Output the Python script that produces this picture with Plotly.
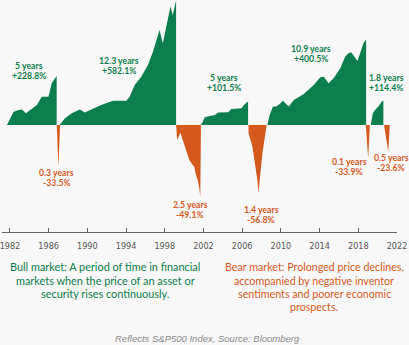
import plotly.graph_objects as go

# ---------------- data ----------------
bull1_years = [1981.69, 1982.38, 1982.90, 1983.24, 1983.65, 1984.09, 1984.78, 1985.29, 1985.98, 1986.32, 1986.60, 1986.83]
bull1_vals = [0, 62, 70, 73, 55, 70, 94, 132, 132, 195, 211, 228.8]

bear1_years = [1986.84, 1987.01, 1987.18]
bear1_vals = [0, -33.4, 0]

bull2_years = [1987.14, 1987.69, 1988.38, 1989.23, 1989.74, 1990.61, 1991.43, 1992.66, 1994.03, 1994.37, 1994.89,
               1995.57, 1996.26, 1996.78, 1997.29, 1997.46, 1997.80, 1998.14, 1998.42, 1998.59, 1998.83, 1999.17]
bull2_vals = [0, 31, 55, 73, 59, 78, 94, 114, 114, 132, 187, 226, 281, 343, 413, 445, 382, 460, 523, 554, 515, 582.1]

bear2_years = [1999.17, 1999.28, 1999.62, 1999.86, 2000.20, 2000.54, 2000.89, 2001.05, 2001.23, 2001.40, 2001.57, 2001.67, 2001.74]
bear2_vals = [0, -12, -6.2, -12, -21.4, -28, -32, -33.4, -40, -44, -50.6, -57.4, 0]

bull3_years = [2001.74, 2002.15, 2002.66, 2003.18, 2003.52, 2004.04, 2004.55, 2004.90, 2005.41, 2005.93, 2006.27, 2006.61]
bull3_vals = [0, 36, 42, 47, 58, 58, 60, 75, 75, 78, 98, 110]

bear3_years = [2006.65, 2006.66, 2007.06, 2007.33, 2007.57, 2007.68, 2007.81, 2008.09, 2008.43, 2008.53]
bear3_vals = [0, -6.6, -17.4, -30.6, -44, -54.2, -44, -22.6, -5.4, 0]

bull4_years = [2008.60, 2008.84, 2009.18, 2009.53, 2009.87, 2010.20, 2010.55, 2010.82, 2011.34, 2012.36, 2013.39, 2014.08,
               2014.42, 2014.93, 2015.45, 2016.14, 2016.65, 2016.99, 2017.27, 2017.58, 2017.92, 2018.19, 2018.53, 2018.81]
bull4_vals = [0, 47, 86, 86, 98, 114, 98, 86, 117, 145, 187, 223, 226, 195, 219, 265, 320, 336, 340, 320, 300, 336, 382, 400.5]

bear4_years = [2018.78, 2019.02, 2019.19]
bear4_vals = [0, -26.6, 0]

bull5_years = [2019.29, 2019.50, 2019.73, 2020.07, 2020.42, 2020.59]
bull5_vals = [0, 55, 70, 86, 109, 114.4]

bear5_years = [2020.66, 2021.10, 2021.25]
bear5_vals = [0, -21.3, 0]

bull_durations = ["5 years", "12.3 years", "5 years", "10.9 years", "1.8 years"]
bull_returns = ["+228.8%", "+582.1%", "+101.5%", "+400.5%", "+114.4%"]
bear_durations = ["0.3 years", "2.5 years", "1.4 years", "0.1 years", "0.5 years"]
bear_returns = ["-33.5%", "-49.1%", "-56.8%", "-33.9%", "-23.6%"]

tick_years = [1982, 1986, 1990, 1994, 1998, 2002, 2006, 2010, 2014, 2018, 2022]

bull_note = ["Bull market: A period of time in financial",
             "markets when the price of an asset or",
             "security rises continuously."]
bear_note = ["Bear market: Prolonged price declines,",
             "accompanied by negative inventor",
             "sentiments and poorer economic",
             "prospects."]
source_note = "Reflects S&P500 Index, Source: Bloomberg"

# ---------------- styling ----------------
GREEN = "#0c7d4c"
ORANGE = "#d5581c"
BG = "#f8f8f8"
LABEL_FONT = "Lato, Open Sans, sans-serif"
NOTE_FONT = "Lato, Open Sans, sans-serif"
TICK_FONT = "DejaVu Sans Condensed, Lato, sans-serif"

W, H = 409, 345
ML, MR, MT, MB = 0, 12, 0, 113
PW, PH = W - ML - MR, H - MT - MB

fig = go.Figure()

bulls = [(bull1_years, bull1_vals), (bull2_years, bull2_vals), (bull3_years, bull3_vals),
         (bull4_years, bull4_vals), (bull5_years, bull5_vals)]
bears = [(bear1_years, bear1_vals), (bear2_years, bear2_vals), (bear3_years, bear3_vals),
         (bear4_years, bear4_vals), (bear5_years, bear5_vals)]

for xs, ys in bulls:
    fig.add_trace(go.Scatter(x=xs, y=ys, mode="lines", line=dict(width=0, color=GREEN),
                             fill="tozeroy", fillcolor=GREEN, yaxis="y", hoverinfo="skip",
                             showlegend=False))
for xs, ys in bears:
    fig.add_trace(go.Scatter(x=xs, y=ys, mode="lines", line=dict(width=0, color=ORANGE),
                             fill="tozeroy", fillcolor=ORANGE, yaxis="y2", hoverinfo="skip",
                             showlegend=False))


def px_to_paper(px, py):
    return (px - ML) / PW, (H - MB - py) / PH


annotations = []


def add_text(px, py, text, color, size, family, bold=False, italic=False):
    x, y = px_to_paper(px, py)
    t = text
    if bold:
        t = "<b>" + t + "</b>"
    if italic:
        t = "<i>" + t + "</i>"
    annotations.append(dict(x=x, y=y, xref="paper", yref="paper", text=t, showarrow=False,
                            xanchor="center", yanchor="middle",
                            font=dict(family=family, size=size, color=color)))


LINE_GAP = 9.8
bull_label_pos = [(26.7, 65.5), (118, 60.8), (223, 77.8), (310.7, 48.8), (386, 77.8)]
for (px, y1), d, r in zip(bull_label_pos, bull_durations, bull_returns):
    add_text(px, y1, d, GREEN, 8.7, LABEL_FONT, bold=True)
    add_text(px, y1 + LINE_GAP, r, GREEN, 8.7, LABEL_FONT, bold=True)

bear_label_pos = [(55, 172.8), (189, 204.8), (260.7, 209.8), (349, 161.5), (391, 157.8)]
for (px, y1), d, r in zip(bear_label_pos, bear_durations, bear_returns):
    add_text(px, y1, d, ORANGE, 8.7, LABEL_FONT, bold=True)
    add_text(px, y1 + LINE_GAP, r, ORANGE, 8.7, LABEL_FONT, bold=True)

for i, line in enumerate(bull_note):
    add_text(104, 266.7 + i * 13.3, line, GREEN, 10.9, NOTE_FONT)
for i, line in enumerate(bear_note):
    add_text(314, 266.7 + i * 13.3, line, ORANGE, 10.7, NOTE_FONT)

add_text(206.7, 338.3, source_note, "#8a8a8a", 9.5, "Liberation Sans, Arial, sans-serif", italic=True)

fig.update_layout(
    width=W, height=H,
    margin=dict(l=ML, r=MR, t=MT, b=MB),
    paper_bgcolor=BG, plot_bgcolor=BG,
    showlegend=False,
    xaxis=dict(range=[1981.18, 2022.0], tickmode="array", tickvals=tick_years,
               ticktext=[str(v) for v in tick_years], ticks="inside", ticklen=4,
               tickcolor="#666666", showline=True, linecolor="#666666", linewidth=1,
               showgrid=False, zeroline=False, ticklabelstandoff=5, ticklabeloverflow="allow",
               tickfont=dict(family=TICK_FONT, size=9, color="#555555")),
    yaxis=dict(range=[-500.8, 585], visible=False, showgrid=False, zeroline=False, fixedrange=True),
    yaxis2=dict(range=[-85.6, 100], overlaying="y", visible=False, showgrid=False, zeroline=False),
    annotations=annotations,
)

fig.write_html("out.html")
